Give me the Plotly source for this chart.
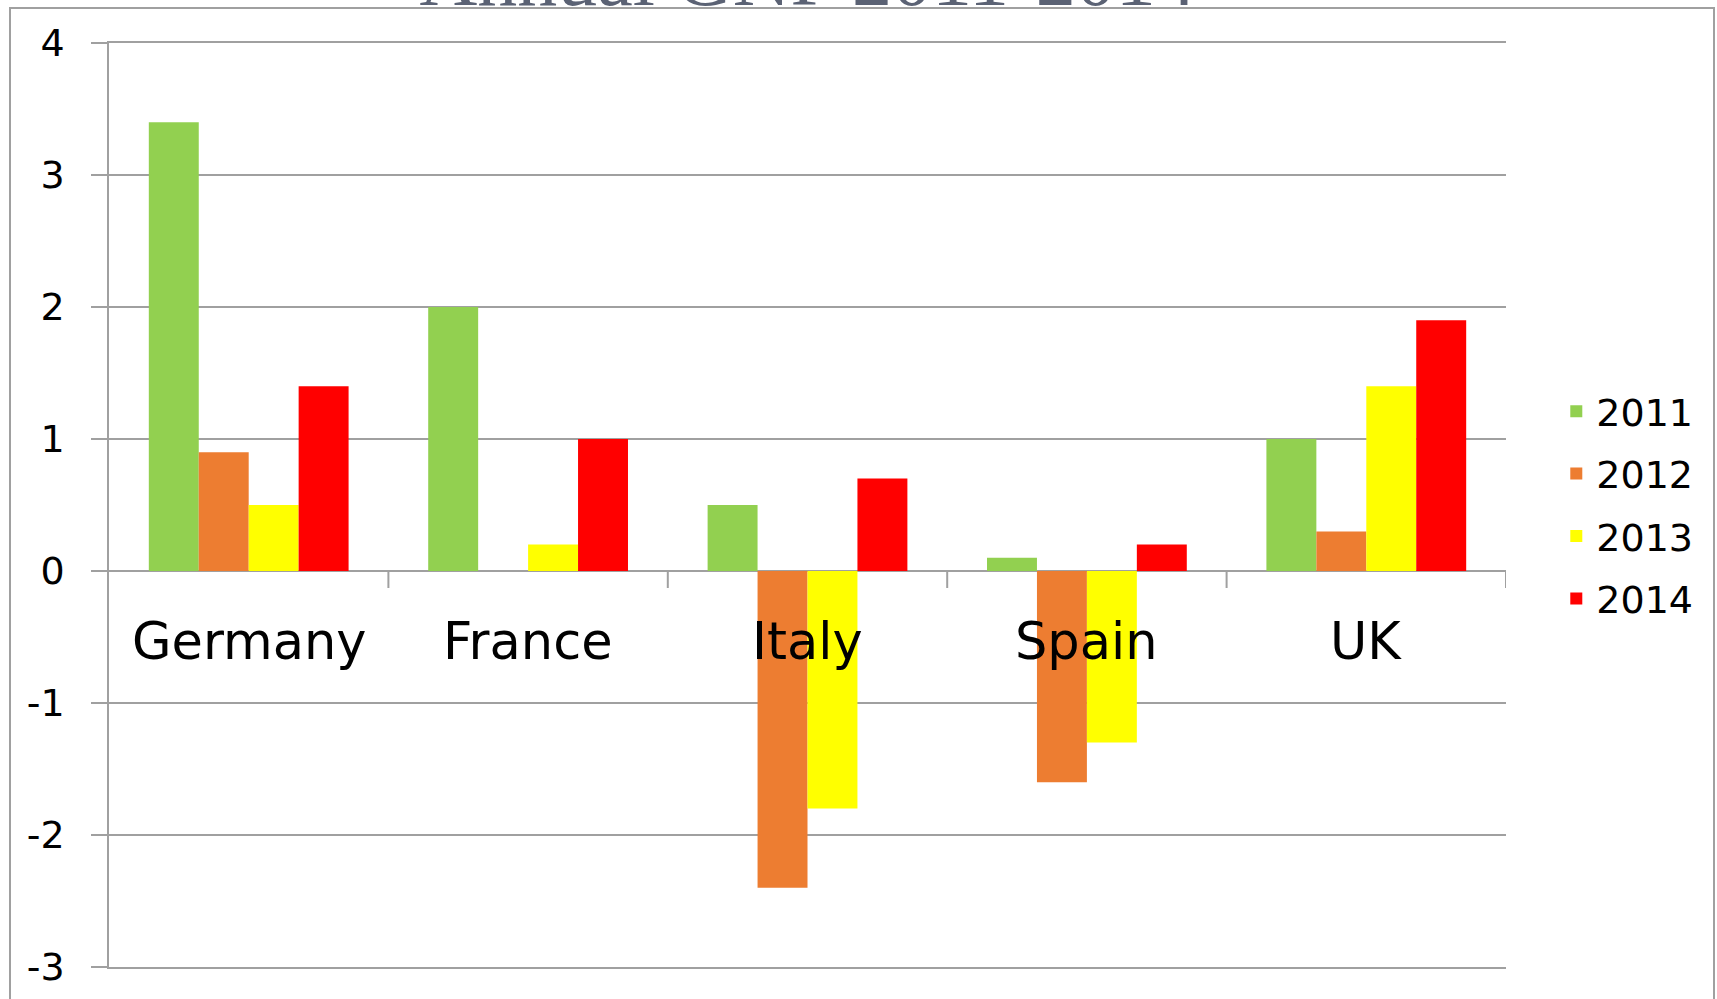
import plotly.graph_objects as go

countries = ["Germany", "France", "Italy", "Spain", "UK"]
years = ["2011", "2012", "2013", "2014"]
v2011 = [3.4, 2.0, 0.5, 0.1, 1.0]
v2012 = [0.9, 0.0, -2.4, -1.6, 0.3]
v2013 = [0.5, 0.2, -1.8, -1.3, 1.4]
v2014 = [1.4, 1.0, 0.7, 0.2, 1.9]
colors = ["#92D050", "#ED7D31", "#FFFF00", "#FF0000"]
title_text = "Annual GNP 2011-2014"
y_ticks = [-3, -2, -1, 0, 1, 2, 3, 4]

series = [v2011, v2012, v2013, v2014]
FONT = "DejaVu Sans"
GRID = "#A0A0A0"

fig = go.Figure()
for yr, vals, col in zip(years, series, colors):
    fig.add_trace(go.Bar(
        x=countries, y=vals, name=yr, legendgroup=yr,
        marker=dict(color=col, line=dict(width=0)),
    ))

# category labels just below the zero line
for c in countries:
    fig.add_annotation(
        x=c, y=0, xref="x", yref="y", text=c, showarrow=False,
        yanchor="middle", yshift=-70,
        font=dict(family=FONT, size=51, color="#000000"),
    )

# category separator ticks below zero line
for i in range(len(countries)):
    fig.add_shape(
        type="line", xref="x", yref="y", x0=i + 0.5, x1=i + 0.5,
        ysizemode="pixel", yanchor=0, y0=0, y1=-17,
        line=dict(color=GRID, width=2),
    )

# outer chart border
fig.add_shape(
    type="rect", xref="paper", yref="paper",
    x0=(10 - 109) / 1397, x1=(1714 - 109) / 1397,
    y0=-0.2, y1=1 + (43 - 8) / 924,
    line=dict(color=GRID, width=2), fillcolor="rgba(0,0,0,0)", layer="below",
)

fig.update_layout(
    width=1717, height=999,
    margin=dict(l=109, r=211, t=43, b=32, autoexpand=False),
    paper_bgcolor="white", plot_bgcolor="white",
    barmode="group", bargap=0.285, bargroupgap=0,
    title=dict(
        text=title_text, x=0.5, xanchor="center", xref="paper",
        y=1 - 5 / 999, yref="container", yanchor="bottom",
        font=dict(family="Liberation Serif", size=80, color="#5B6274"),
    ),
    font=dict(family=FONT, color="#000000"),
    legend=dict(
        x=1.036, xanchor="left", y=0.5, yanchor="middle",
        font=dict(family=FONT, size=38, color="#000000"),
        tracegroupgap=10, bgcolor="rgba(0,0,0,0)",
    ),
    xaxis=dict(
        showticklabels=False, showgrid=False, zeroline=False,
        ticks="", range=[-0.5, 4.5],
        showline=True, mirror=True, linecolor=GRID, linewidth=2,
    ),
    yaxis=dict(
        range=[-3, 4], tickvals=y_ticks, ticktext=[str(t) for t in y_ticks],
        showgrid=True, gridcolor=GRID, gridwidth=2,
        zeroline=True, zerolinecolor=GRID, zerolinewidth=2,
        showline=True, linecolor=GRID, linewidth=1.5,
        ticks="outside", ticklen=16, tickwidth=2, tickcolor=GRID,
        ticklabelstandoff=19,
        tickfont=dict(family=FONT, size=38, color="#000000"),
    ),
)

fig.write_html(
    "out.html",
    config={"displayModeBar": False},
    post_script="document.body.style.margin='0';",
)
